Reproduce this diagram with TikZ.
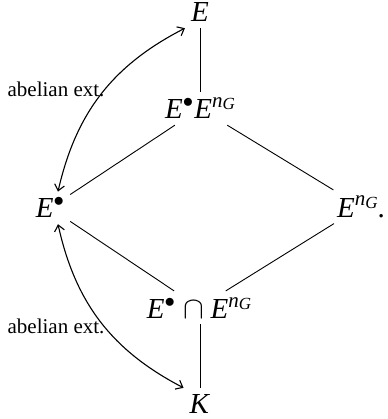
\documentclass[tikz,border=0pt]{standalone}
\usepackage{fontspec}
\setmainfont{Liberation Serif}
\usetikzlibrary{arrows.meta}
\newcommand{\mE}{\textit{E}}
\newcommand{\bul}{\raisebox{11pt}{\fontsize{20pt}{20pt}\selectfont$\bullet$}}
\newcommand{\nG}{\raisebox{11pt}{\fontsize{21pt}{21pt}\selectfont\textit{n}\raisebox{-2pt}{\fontsize{17pt}{17pt}\selectfont\textit{G}}}}
\newcommand{\mycap}{\scalebox{1.25}{$\cap$}}
\tikzset{
  obj/.style={anchor=base, inner sep=6pt, font=\fontsize{29pt}{32pt}\selectfont},
  lab/.style={anchor=base, inner sep=0pt, font=\fontsize{21pt}{24pt}\selectfont},
  edge/.style={line width=0.9pt},
  arr/.style={line width=1.1pt, {Straight Barb[length=6pt,width=10pt]}-{Straight Barb[length=6pt,width=10pt]}}
}
\begin{document}
\begin{tikzpicture}[x=1pt,y=-1pt]
\useasboundingbox (0,0) rectangle (387,419);
\node[obj] (E) at (200,22) {\mE};
\node[obj] (EEn) at (200,119) {\mE\bul\hspace{1pt}\mE\nG};
\node[obj] (Eb) at (50,218) {\mE\bul};
\node[obj] (En) at (361,217) {\mE\nG.};
\node[obj] (cap) at (199,318) {\mE\bul\hspace{9pt}\mycap\hspace{6pt}\mE\nG};
\node[obj] (K) at (200,413) {\textit{K}};
\node[lab] (l1) at (56,97) {abelian ext.};
\node[lab] (l2) at (56,333) {abelian ext.};
\draw[edge] (E) -- (EEn);
\draw[edge] (EEn) -- (Eb);
\draw[edge] (EEn) -- (En);
\draw[edge] (Eb) -- (cap);
\draw[edge] (En) -- (cap);
\draw[edge] (cap.south -| K) -- (K);
\draw[arr] ([xshift=8pt]Eb.north) to[bend left=25] (E.south west);
\draw[arr] ([xshift=8pt]Eb.south) to[bend right=25] (K.north west);
\end{tikzpicture}
\end{document}
